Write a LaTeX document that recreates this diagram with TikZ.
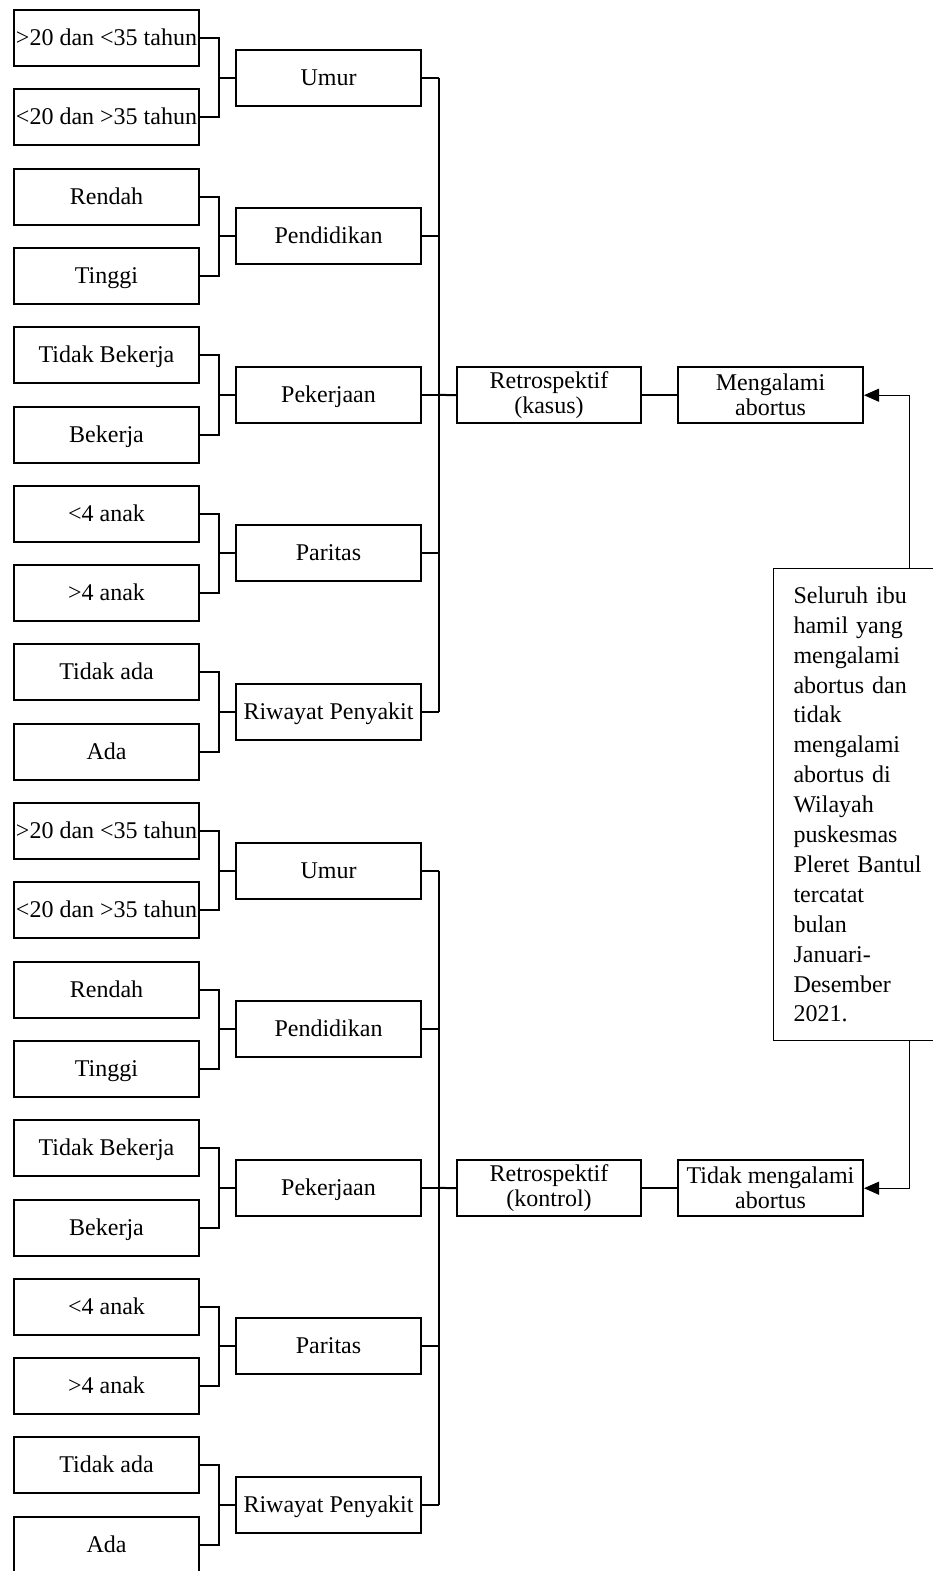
\documentclass[tikz,border=0pt]{standalone}
\usepackage{fontspec}
\setmainfont{Liberation Serif}
\usetikzlibrary{arrows.meta}
\begin{document}
\begin{tikzpicture}[x=1pt,y=-1pt,
  box/.style={draw, line width=2pt, minimum width=185pt, minimum height=56pt, inner sep=0pt, font=\fontsize{24}{25}\selectfont, align=center},
  onebox/.style={box, text height=18pt, text depth=3pt},
  link/.style={line width=2pt},
  arr/.style={line width=1pt, -{Triangle[length=15pt,width=13pt]}},
  notebox/.style={draw, line width=1pt, anchor=north west, minimum width=190pt, minimum height=472pt, text width=150pt, inner xsep=19pt, inner ysep=0pt, align=left, font=\fontsize{24}{29.9}\selectfont}
]
\useasboundingbox (0,0) rectangle (933,1571);
\coordinate (busx) at (439,0);
\coordinate (ax) at (909,0);
\foreach \ta/\tb/\tm [count=\i from 0] in {
  {>20 dan <35 tahun}/{<20 dan >35 tahun}/Umur,
  Rendah/Tinggi/Pendidikan,
  Tidak Bekerja/Bekerja/Pekerjaan,
  {<4 anak}/{>4 anak}/Paritas,
  Tidak ada/Ada/Riwayat Penyakit,
  {>20 dan <35 tahun}/{<20 dan >35 tahun}/Umur,
  Rendah/Tinggi/Pendidikan,
  Tidak Bekerja/Bekerja/Pekerjaan,
  {<4 anak}/{>4 anak}/Paritas,
  Tidak ada/Ada/Riwayat Penyakit}{
  \pgfmathsetmacro\ya{38+158.6*\i}
  \node[onebox] (la\i) at (106.5,\ya) {\ta};
  \node[onebox] (lb\i) at (106.5,\ya+79.3) {\tb};
  \node[onebox] (m\i) at (328.5,\ya+39.65) {\tm};
  \draw[link] (la\i.east) -- ++(19,0) |- (m\i.west);
  \draw[link] (lb\i.east) -- ++(19,0) |- (m\i.west);
  \draw[link] (m\i.east) -- (m\i.east -| busx);
}
\draw[link] (m0.east -| busx) -- (m4.east -| busx);
\draw[link] (m5.east -| busx) -- (m9.east -| busx);

\node[box, minimum width=184pt] (r1) at (549,395.2) {Retrospektif\\(kasus)};
\node[box] (g1) at (770.5,395.2) {Mengalami\\abortus};
\node[box, minimum width=184pt] (r2) at (549,1188.2) {Retrospektif\\(kontrol)};
\node[box] (g2) at (770.5,1188.2) {Tidak mengalami\\abortus};
\draw[link] (m2.east -| busx) -- (r1.west);
\draw[link] (m7.east -| busx) -- (r2.west);
\draw[link] (r1.east) -- (g1.west);
\draw[link] (r2.east) -- (g2.west);

\node[notebox] (note) at (773,568) {Seluruh ibu\\hamil yang\\mengalami\\abortus dan\\tidak\\mengalami\\abortus di\\Wilayah\\puskesmas\\Pleret Bantul\\tercatat\\bulan\\Januari-\\Desember\\2021.};
\draw[arr] (note.north -| ax) |- (g1.east);
\draw[arr] (note.south -| ax) |- (g2.east);
\end{tikzpicture}
\end{document}
